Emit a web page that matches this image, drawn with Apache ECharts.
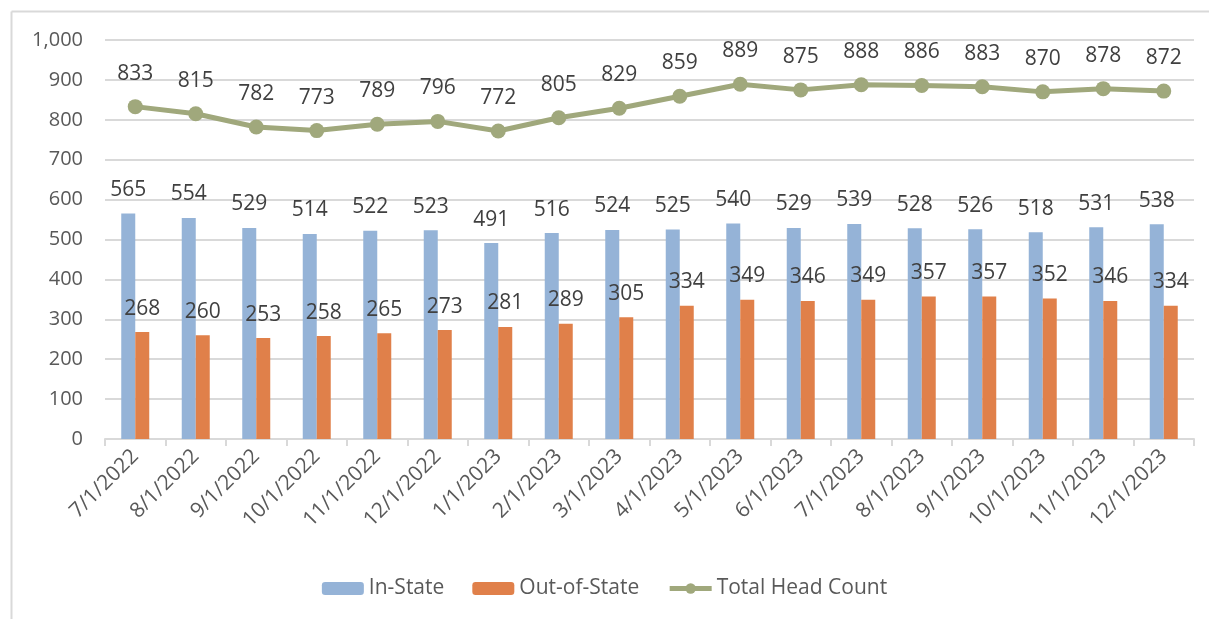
<!DOCTYPE html>
<html>
<head>
<meta charset="utf-8">
<script src="https://cdn.jsdelivr.net/npm/echarts@6/dist/echarts.min.js"></script>
<style>
  html, body { margin: 0; padding: 0; background: #fff; }
  #main { width: 1209px; height: 619px; }
</style>
</head>
<body>
<div id="main"></div>
<script>
var months = ['7/1/2022', '8/1/2022', '9/1/2022', '10/1/2022', '11/1/2022', '12/1/2022',
  '1/1/2023', '2/1/2023', '3/1/2023', '4/1/2023', '5/1/2023', '6/1/2023',
  '7/1/2023', '8/1/2023', '9/1/2023', '10/1/2023', '11/1/2023', '12/1/2023'];
var inState = [565, 554, 529, 514, 522, 523, 491, 516, 524, 525, 540, 529, 539, 528, 526, 518, 531, 538];
var outState = [268, 260, 253, 258, 265, 273, 281, 289, 305, 334, 349, 346, 349, 357, 357, 352, 346, 334];
var totalCount = [833, 815, 782, 773, 789, 796, 772, 805, 829, 859, 889, 875, 888, 886, 883, 870, 878, 872];

var myChart = echarts.init(document.getElementById('main'));
var txt = '#404040';
var font = 'Open Sans';

option = {
    animation: false,
    textStyle: { fontFamily: font },
    graphic: [
        { type: 'line', shape: { x1: 11.5, y1: 11.5, x2: 1209, y2: 11.5 }, style: { stroke: '#d9d9d9', lineWidth: 2 } },
        { type: 'line', shape: { x1: 11.5, y1: 11.5, x2: 11.5, y2: 619 }, style: { stroke: '#d9d9d9', lineWidth: 2 } }
    ],
    grid: { left: 105, right: 15, top: 40, bottom: 180 },
    legend: {
        bottom: 15,
        left: 'center',
        itemWidth: 42,
        itemHeight: 13,
        itemGap: 28,
        textStyle: { fontSize: 21, color: '#595959', fontFamily: font },
        data: [
            'In-State',
            'Out-of-State',
            { name: 'Total Head Count', itemStyle: { color: '#a0a87c' }, lineStyle: { color: '#a0a87c', width: 5 } }
        ]
    },
    xAxis: {
        type: 'category',
        data: months,
        axisLine: { lineStyle: { color: '#d9d9d9', width: 2 } },
        axisTick: { show: true, length: 7, lineStyle: { color: '#d9d9d9', width: 2 } },
        axisLabel: { rotate: 45, fontSize: 21, color: '#595959', margin: 14, fontFamily: font }
    },
    yAxis: {
        type: 'value',
        min: 0,
        max: 1000,
        interval: 100,
        axisLine: { show: false },
        axisTick: { show: false },
        splitLine: { lineStyle: { color: '#d9d9d9', width: 2 } },
        axisLabel: {
            fontSize: 20, color: '#595959', margin: 22, fontFamily: font,
            formatter: function (v) { return v.toLocaleString('en-US'); }
        }
    },
    series: [
        {
            name: 'In-State',
            type: 'bar',
            data: inState,
            barWidth: 14,
            barGap: '0%',
            itemStyle: { color: '#95b3d7' },
            label: { show: true, position: 'top', distance: 13, fontSize: 21, color: txt, fontFamily: font }
        },
        {
            name: 'Out-of-State',
            type: 'bar',
            data: outState,
            barWidth: 14,
            itemStyle: { color: '#e0804a' },
            label: { show: true, position: 'top', distance: 13, fontSize: 21, color: txt, fontFamily: font }
        },
        {
            name: 'Total Head Count',
            type: 'line',
            data: totalCount,
            symbol: 'circle',
            symbolSize: 15,
            lineStyle: { color: '#a0a87c', width: 5 },
            itemStyle: { color: '#a0a87c' },
            label: { show: true, position: 'top', distance: 15, fontSize: 21, color: txt, fontFamily: font }
        }
    ]
};

myChart.setOption(option);
</script>
</body>
</html>
